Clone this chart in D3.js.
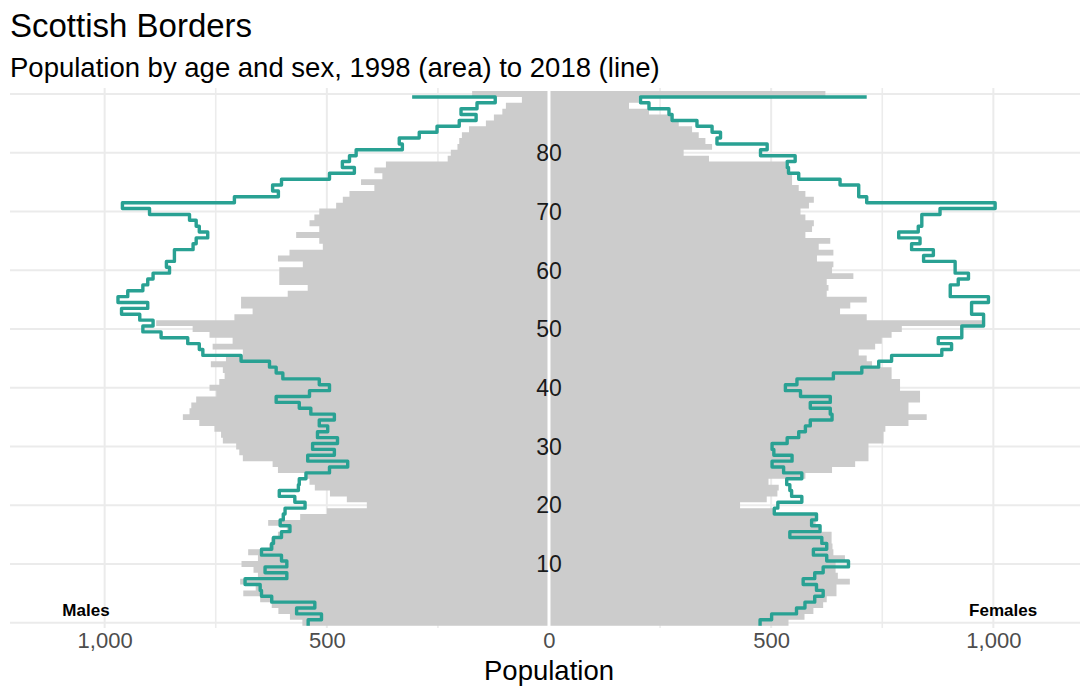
<!DOCTYPE html>
<html>
<head>
<meta charset="utf-8">
<script src="https://cdn.jsdelivr.net/npm/d3@7"></script>
<style>
  body { margin: 0; background: #fff; }
  svg { display: block; font-family: "Liberation Sans", Arial, Helvetica, sans-serif; }
</style>
</head>
<body>
<div id="chart"></div>
<script>
// single years of age, 0 to 90 (90 = 90+)
const ages = d3.range(0, 91);

const males1998 = [
  555, 583, 609, 624, 650, 688, 660, 695, 655, 665,
  692, 655, 677, 630, 625, 610, 590, 632, 560, 500,
  410, 455, 493, 527, 539, 547, 610, 622, 689, 697,
  704, 734, 738, 753, 787, 824, 809, 805, 794, 749,
  764, 742, 730, 734, 761, 727, 689, 757, 712, 764,
  802, 884, 708, 667, 693, 693, 588, 543, 607, 607,
  607, 554, 610, 584, 509, 517, 569, 517, 539, 528,
  517, 479, 464, 449, 393, 423, 375, 393, 367, 228,
  221, 206, 202, 196, 180, 142, 124, 105, 97, 61,
  173
];
const females1998 = [
  539, 575, 595, 617, 625, 647, 647, 677, 650, 645,
  645, 666, 640, 638, 636, 636, 610, 600, 600, 507,
  430, 490, 514, 517, 494, 577, 637, 689, 719, 719,
  719, 753, 753, 757, 809, 850, 809, 809, 835, 835,
  790, 790, 771, 771, 727, 715, 697, 734, 749, 771,
  794, 978, 715, 655, 678, 715, 625, 629, 625, 685,
  637, 640, 603, 640, 607, 633, 577, 592, 596, 577,
  566, 585, 596, 577, 562, 547, 547, 539, 532, 360,
  303, 367, 352, 337, 322, 292, 277, 225, 180, 202,
  622
];
const males2018 = [
  542, 512, 568, 527, 624, 647, 650, 684, 590, 639,
  590, 602, 647, 624, 620, 602, 583, 605, 598, 594,
  549, 572, 607, 564, 562, 547, 494, 453, 543, 483,
  532, 476, 521, 498, 517, 483, 536, 562, 614, 539,
  494, 517, 599, 614, 629, 693, 779, 787, 813, 873,
  914, 891, 921, 962, 903, 970, 948, 914, 903, 891,
  854, 861, 843, 843, 801, 794, 768, 787, 794, 809,
  899, 960, 708, 609, 622, 602, 494, 438, 465, 449,
  434, 330, 337, 292, 252, 202, 164, 198, 162, 121,
  308
];
const females2018 = [
  475, 501, 557, 576, 598, 617, 602, 572, 598, 617,
  674, 625, 595, 625, 614, 542, 610, 591, 602, 507,
  515, 569, 546, 542, 535, 569, 528, 502, 547, 506,
  502, 536, 562, 577, 588, 637, 633, 588, 633, 566,
  532, 558, 640, 704, 742, 771, 884, 906, 876, 929,
  929, 978, 978, 951, 951, 989, 903, 903, 921, 944,
  914, 914, 843, 865, 816, 835, 787, 831, 839, 839,
  880, 1004, 715, 697, 697, 655, 562, 539, 536, 554,
  476, 491, 378, 386, 367, 333, 277, 270, 225, 206,
  715
];

const popTicks = [-1000, -500, 0, 500, 1000];
const popMinor = [-750, -250, 250, 750];
const ageBreaks = d3.range(0, 91, 10);
const ageLabels = d3.range(10, 81, 10);

const width = 1083, height = 686;
const teal = "#29a193";
const barGrey = "#cccccc";

const svg = d3.select("#chart").append("svg")
  .attr("width", width)
  .attr("height", height);

const x = d3.scaleLinear()
  .domain([-1213, 1195])
  .range([10, 1080]);
const y = d3.scaleLinear()
  .domain([0, 90])
  .range([622.7, 94]);

const panelTop = 88, panelBottom = 628;

// grid
const grid = svg.append("g");
grid.selectAll("line.minor")
  .data(popMinor)
  .join("line")
    .attr("class", "minor")
    .attr("x1", d => x(d)).attr("x2", d => x(d))
    .attr("y1", panelTop).attr("y2", panelBottom)
    .attr("stroke", "#ececec")
    .attr("stroke-width", 1.6);
grid.selectAll("line.vmajor")
  .data(popTicks)
  .join("line")
    .attr("class", "vmajor")
    .attr("x1", d => x(d)).attr("x2", d => x(d))
    .attr("y1", panelTop).attr("y2", panelBottom)
    .attr("stroke", "#ebebeb")
    .attr("stroke-width", 2);
grid.selectAll("line.hmajor")
  .data(ageBreaks)
  .join("line")
    .attr("class", "hmajor")
    .attr("x1", x.range()[0]).attr("x2", x.range()[1])
    .attr("y1", d => y(d)).attr("y2", d => y(d))
    .attr("stroke", "#ebebeb")
    .attr("stroke-width", 2);

// 1998 as bars, one band per year of age
const bands = vals => ages.flatMap(a => [
  {a: a - 0.5, v: vals[a]},
  {a: a + 0.5, v: vals[a]}
]);
const area = sign => d3.area()
  .y(d => y(d.a))
  .x0(x(0))
  .x1(d => x(sign * d.v));

svg.append("path")
  .datum(bands(males1998))
  .attr("fill", barGrey)
  .attr("d", area(-1));
svg.append("path")
  .datum(bands(females1998))
  .attr("fill", barGrey)
  .attr("d", area(1));

// white centre line
svg.append("line")
  .attr("x1", x(0)).attr("x2", x(0))
  .attr("y1", panelTop).attr("y2", panelBottom)
  .attr("stroke", "#ffffff")
  .attr("stroke-width", 3);

// 2018 as a step line
const steps = vals => {
  const pts = [];
  ages.slice(0, -1).forEach(a => {
    pts.push({a: a - 0.5, v: vals[a]});
    pts.push({a: a + 0.5, v: vals[a]});
  });
  pts.push({a: 89.5, v: vals[90]});
  return pts;
};
const line = sign => d3.line()
  .x(d => x(sign * d.v))
  .y(d => y(d.a));

svg.append("path")
  .datum(steps(males2018))
  .attr("fill", "none")
  .attr("stroke", teal)
  .attr("stroke-width", 3.4)
  .attr("stroke-linejoin", "round")
  .attr("d", line(-1));
svg.append("path")
  .datum(steps(females2018))
  .attr("fill", "none")
  .attr("stroke", teal)
  .attr("stroke-width", 3.4)
  .attr("stroke-linejoin", "round")
  .attr("d", line(1));

// age labels down the middle
svg.append("g")
  .selectAll("text")
  .data(ageLabels)
  .join("text")
    .attr("x", x(0))
    .attr("y", d => y(d))
    .attr("dy", "0.36em")
    .attr("text-anchor", "middle")
    .attr("font-size", 23)
    .attr("fill", "#1a1a1a")
    .text(d => d);

// sex labels
svg.append("text")
  .attr("x", x(-1042))
  .attr("y", 616)
  .attr("text-anchor", "middle")
  .attr("font-size", 17)
  .attr("font-weight", "bold")
  .attr("fill", "#000")
  .text("Males");
svg.append("text")
  .attr("x", x(1022))
  .attr("y", 616)
  .attr("text-anchor", "middle")
  .attr("font-size", 17)
  .attr("font-weight", "bold")
  .attr("fill", "#000")
  .text("Females");

// x axis
svg.append("g")
  .attr("transform", `translate(0,${panelBottom})`)
  .call(d3.axisBottom(x)
    .tickValues(popTicks)
    .tickSize(0)
    .tickPadding(4)
    .tickFormat(d => d3.format(",")(Math.abs(d))))
  .call(g => g.select(".domain").remove())
  .call(g => g.selectAll(".tick text")
    .attr("font-size", 22)
    .attr("font-family", null)
    .attr("fill", "#4d4d4d"));

svg.append("text")
  .attr("x", x(0))
  .attr("y", 680)
  .attr("text-anchor", "middle")
  .attr("font-size", 27.5)
  .attr("fill", "#000")
  .text("Population");

// titles
svg.append("text")
  .attr("x", 10)
  .attr("y", 37)
  .attr("font-size", 33)
  .attr("fill", "#000")
  .text("Scottish Borders");
svg.append("text")
  .attr("x", 10)
  .attr("y", 77)
  .attr("font-size", 27.5)
  .attr("fill", "#000")
  .text("Population by age and sex, 1998 (area) to 2018 (line)");
</script>
</body>
</html>
